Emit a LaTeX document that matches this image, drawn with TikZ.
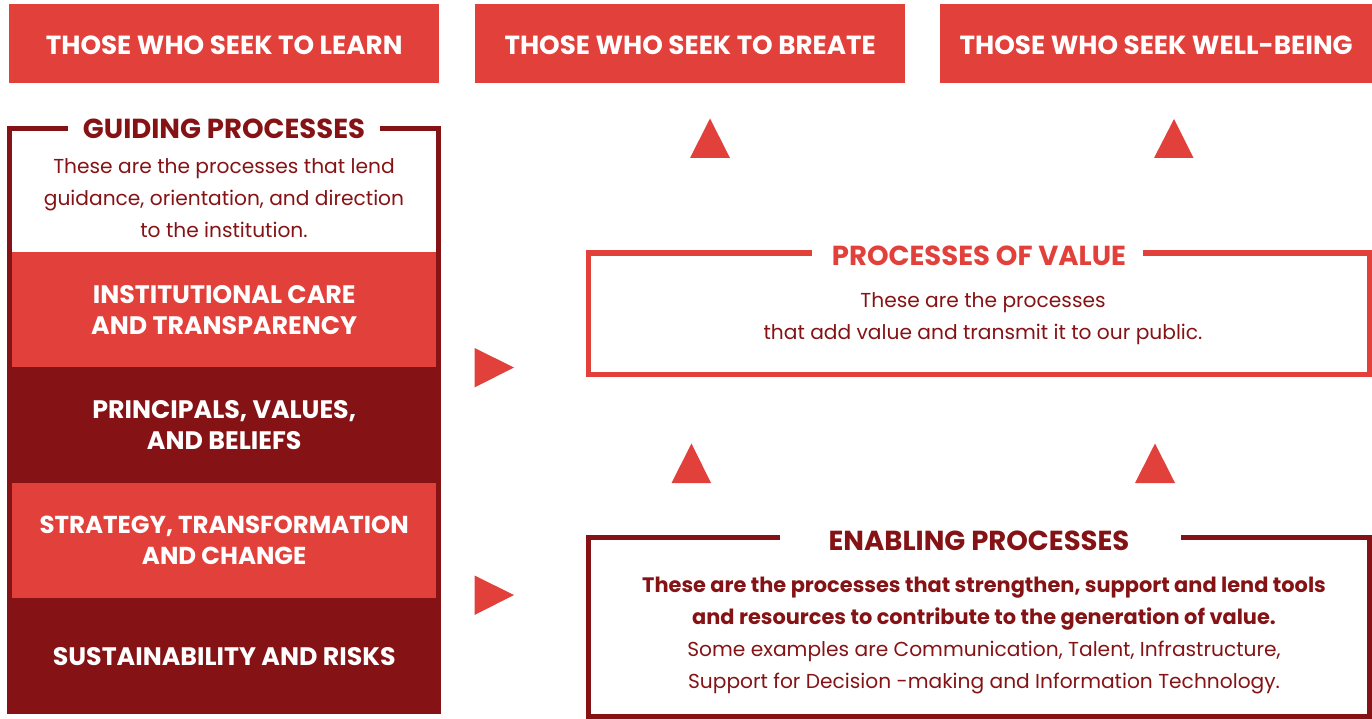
\documentclass[tikz,border=0pt]{standalone}
\usepackage{fontspec}
\setmainfont{Poppins}
\definecolor{lred}{RGB}{226,64,59}
\definecolor{dred}{RGB}{133,19,22}
\newcommand{\hdfont}{\fontsize{26.2}{31}\selectfont\bfseries}
\newcommand{\rwfont}{\fontsize{25.3}{31}\selectfont\bfseries}
\newcommand{\ttfont}{\fontsize{27.5}{31}\selectfont\bfseries}
\newcommand{\dsfont}{\fontsize{20.2}{32}\selectfont}
\newcommand{\bdfont}{\fontsize{20.9}{32}\selectfont\bfseries}
\begin{document}
\begin{tikzpicture}[x=1pt,y=-1pt,
  hdr/.style={fill=lred, minimum height=79pt, inner sep=0pt, text=white, font=\hdfont},
  rowbox/.style={minimum height=115.5pt, inner sep=0pt, text=white, font=\rwfont, align=center, anchor=north west},
  ttl/.style={font=\ttfont, inner sep=0pt},
  desc/.style={font=\dsfont, text=dred, align=center, inner sep=0pt},
  frame/.style={line width=5pt},
  tri/.style={fill=lred}]
\useasboundingbox (0,0) rectangle (1372,719);
% headers
\node[hdr, minimum width=430pt, anchor=north west] (h1) at (9,4) {};
\node[hdr, minimum width=430pt, anchor=north west] (h2) at (475,4) {};
\node[hdr, minimum width=432pt, anchor=north west] (h3) at (940,4) {};
\node[font=\hdfont, text=white, inner sep=0pt] (h1t) at ([yshift=-2pt]h1.center) {THOSE WHO SEEK TO LEARN};
\node[font=\hdfont, text=white, inner sep=0pt] (h2t) at ([yshift=-2pt]h2.center) {THOSE WHO SEEK TO BREATE};
\node[font=\hdfont, text=white, inner sep=0pt] (h3t) at ([yshift=-2pt]h3.center) {THOSE WHO SEEK WELL-BEING};
% guiding frame
\draw[frame, dred] (68,128.5) -- (9.5,128.5) -- (9.5,714);
\draw[frame, dred] (380,128.5) -- (438.5,128.5) -- (438.5,714);
\node[ttl, text=dred] (gt) at (224,128.5) {GUIDING PROCESSES};
\node[desc] (gd) at (224,198.5) {These are the processes that lend\\guidance, orientation, and direction\\to the institution.};
% rows
\node[rowbox, fill=lred, minimum width=424pt] (r1) at (12,252) {INSTITUTIONAL CARE\\AND TRANSPARENCY};
\node[rowbox, fill=dred, minimum width=434pt] (r2) at (7,367) {PRINCIPALS, VALUES,\\AND BELIEFS};
\node[rowbox, fill=lred, minimum width=424pt, font=\fontsize{24.5}{31}\selectfont\bfseries] (r3) at (12,482.5) {STRATEGY, TRANSFORMATION\\AND CHANGE};
\node[rowbox, fill=dred, minimum width=434pt, minimum height=116pt] (r4) at (7,598) {SUSTAINABILITY AND RISKS};
% triangles
\fill[tri] (474.5,348) -- (514,367.5) -- (474.5,387.5) -- cycle;
\fill[tri] (474.5,575.5) -- (514,595) -- (474.5,615) -- cycle;
\fill[tri] (690,158) -- (710,118.5) -- (730,158) -- cycle;
\fill[tri] (1154,158) -- (1174,119) -- (1193.5,158) -- cycle;
\fill[tri] (671.5,483) -- (691.5,443.5) -- (711,483) -- cycle;
\fill[tri] (1135,483) -- (1155,443.5) -- (1175,483) -- cycle;
% processes of value
\draw[frame, lred] (812,253) -- (588.5,253) -- (588.5,374) -- (1369,374) -- (1369,253) -- (1143,253);
\node[ttl, text=lred] (vt) at (979,256) {PROCESSES OF VALUE};
\node[desc] (vd) at (983,319) {These are the processes\\that add value and transmit it to our public.};
% enabling
\draw[frame, dred] (780,537.5) -- (588.5,537.5) -- (588.5,716.5) -- (1369,716.5) -- (1369,537.5) -- (1181,537.5);
\node[ttl, text=dred] (et) at (979,541) {ENABLING PROCESSES};
\node[desc] (ed) at (984,635) {{\bdfont These are the processes that strengthen, support and lend tools}\\{\bdfont and resources to contribute to the generation of value.}\\Some examples are Communication, Talent, Infrastructure,\\Support for Decision -making and Information Technology.};
\end{tikzpicture}
\end{document}
